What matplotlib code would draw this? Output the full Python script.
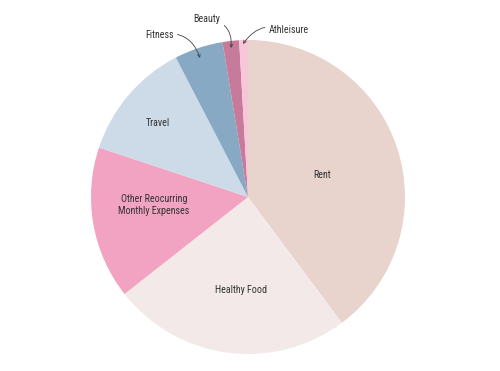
import matplotlib
matplotlib.use("Agg")
import matplotlib.pyplot as plt
from matplotlib import font_manager

categories = ["Rent", "Healthy Food", "Other Reocurring\nMonthly Expenses", "Travel", "Fitness", "Beauty", "Athleisure"]
values = [39.8, 24.6, 15.7, 12.3, 5.0, 1.7, 0.9]
colors = ["#e8d3cd", "#f3e9e8", "#f2a3c2", "#cddbe8", "#87a9c3", "#c77b9b", "#f7c6d8"]

names = {f.name for f in font_manager.fontManager.ttflist}
cands = [n for n in ['Roboto Condensed', 'Liberation Sans Narrow', 'DejaVu Sans'] if n in names]
plt.rcParams['font.family'] = cands
plt.rcParams['font.stretch'] = 'condensed'

W, H = 500, 371
cx, cy, R = 248, 197, 157
fig = plt.figure(figsize=(W/100, H/100), dpi=100)
ax = fig.add_axes([(cx-R)/W, (H-cy-R)/H, 2*R/W, 2*R/H])
wedges, _ = ax.pie(values, colors=colors, startangle=90, counterclock=False, radius=1,
                   wedgeprops=dict(linewidth=0))
ax.set_xlim(-1, 1); ax.set_ylim(-1, 1)
ax.set_aspect('equal')
ax.axis('off')

def d(px, py):
    return ((px-cx)/R, (cy-py)/R)

fs = 7.2
tc = "#333333"
inside = {"Rent": (322, 175), "Healthy Food": (241, 290),
          "Other Reocurring\nMonthly Expenses": (154, 205), "Travel": (158, 123)}
for name, (px, py) in inside.items():
    ax.text(*d(px, py), name, ha='center', va='center', fontsize=fs, color=tc, linespacing=1.15)

ap = dict(arrowstyle='->', color='#444444', lw=0.6, shrinkA=1, shrinkB=0, mutation_scale=5)
ax.annotate("Fitness", xy=d(200, 58), xytext=d(159, 35), ha='center', va='center', fontsize=fs, color=tc,
            arrowprops=dict(ap, connectionstyle="arc3,rad=-0.45"), annotation_clip=False)
ax.annotate("Beauty", xy=d(231, 48), xytext=d(207, 19), ha='center', va='center', fontsize=fs, color=tc,
            arrowprops=dict(ap, connectionstyle="arc3,rad=-0.5"), annotation_clip=False)
ax.annotate("Athleisure", xy=d(243, 44), xytext=d(289, 30), ha='center', va='center', fontsize=fs, color=tc,
            arrowprops=dict(ap, connectionstyle="arc3,rad=0.4"), annotation_clip=False)

fig.savefig("out.png", dpi=100)
